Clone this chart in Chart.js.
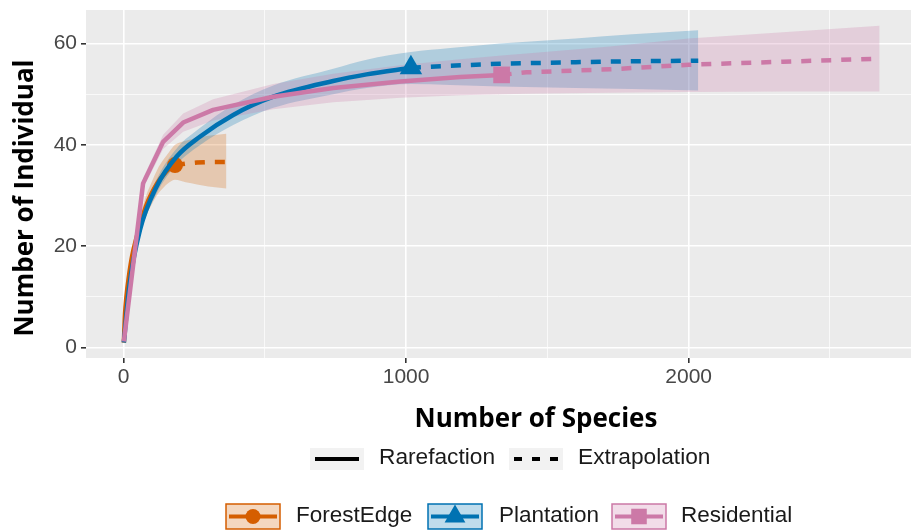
<!DOCTYPE html>
<html>
<head>
<meta charset="utf-8">
<script src="https://cdn.jsdelivr.net/npm/chart.js@4.4.1/dist/chart.umd.min.js"></script>
<style>
  html, body { margin: 0; padding: 0; background: #ffffff; }
  canvas { display: block; }
</style>
</head>
<body>
<canvas id="chart" width="911" height="531"></canvas>
<script>
// Values
const sites = ['ForestEdge', 'Plantation', 'Residential'];
const siteColors = ['#D55E00', '#0072B2', '#CC79A7'];
const siteMarkers = ['circle', 'triangle', 'rect'];
const methods = ['Rarefaction', 'Extrapolation'];

// sample size at the observed point of each site
const observedN = [182, 1017, 1338];

const forestX   = [1, 5, 10, 20, 30, 45, 60, 80, 100, 120, 140, 160, 182, 220, 260, 300, 364];
const forestEst = [1, 6.5, 10, 14.5, 18, 21.5, 24.5, 28, 30.5, 32.5, 34, 35.2, 36, 36.3, 36.5, 36.6, 36.6];
const forestLo  = [1, 6, 9.3, 13.5, 16.8, 20, 22.8, 26, 28.3, 30.2, 31.5, 32.5, 33.1, 32.6, 32.2, 31.8, 31.4];
const forestHi  = [1, 7, 10.7, 15.5, 19.2, 23, 26.2, 30, 32.7, 35.2, 37, 38.5, 40, 40.8, 41.4, 41.8, 42.2];

const plantX   = [1, 20, 58, 117, 188, 270, 388, 530, 742, 860, 1017, 1156, 1332, 1600, 1800, 2034];
const plantEst = [1, 12, 23.2, 31.8, 37.7, 41.6, 45.9, 49.5, 52.6, 53.9, 55.2, 55.6, 56.0, 56.3, 56.5, 56.6];
const plantLo  = [1, 11, 22, 30.4, 36.1, 39.9, 43.9, 47.3, 50, 51.2, 52, 51.8, 51.5, 51.2, 51, 50.7];
const plantHi  = [1, 13, 24.4, 33.2, 39.3, 43.3, 47.9, 51.7, 55, 56.8, 58.3, 59.1, 60, 61, 61.8, 62.6];

const residX   = [1, 69, 140, 211, 317, 530, 742, 980, 1191, 1338, 1426, 1721, 2000, 2334, 2676];
const residEst = [1.2, 32.4, 40.6, 44.4, 46.9, 49.5, 51.2, 52.5, 53.4, 53.8, 54.3, 54.9, 55.8, 56.4, 57.0];
const residLo  = [1.2, 31.4, 39.2, 42.6, 44.8, 47, 48.4, 49.3, 49.8, 50, 50.1, 50.3, 50.4, 50.5, 50.5];
const residHi  = [1.2, 33.4, 42, 46.2, 49, 52, 54, 55.7, 56.9, 57.6, 58, 59.4, 61, 62.2, 63.5];

// labelled ticks, and every grid line (major + minor)
const xTicks = [0, 1000, 2000];
const yTicks = [0, 20, 40, 60];
const xGrid = [0, 500, 1000, 1500, 2000, 2500];
const yGrid = [0, 10, 20, 30, 40, 50, 60];

const xTitle = 'Number of Species';
const yTitle = 'Number of Individual';

const siteSeries = [
    { x: forestX, est: forestEst, lo: forestLo, hi: forestHi, smooth: true },
    { x: plantX, est: plantEst, lo: plantLo, hi: plantHi, smooth: true },
    { x: residX, est: residEst, lo: residLo, hi: residHi, smooth: false }
];

function rgba(hex, a) {
    const n = parseInt(hex.slice(1), 16);
    return `rgba(${(n >> 16) & 255},${(n >> 8) & 255},${n & 255},${a})`;
}

function toPoints(xs, ys) {
    return xs.map((x, k) => ({ x: x, y: ys[k] }));
}

// One band (two edges + fill), a solid and a dashed line, and the observed marker per site
function buildDatasets() {
    const datasets = [];

    siteSeries.forEach((s, i) => {
        const color = siteColors[i];
        const n = observedN[i];
        const interp = s.smooth ? 'monotone' : 'default';
        const lineOrder = 10 - i * 3;

        const lowerIndex = datasets.length;
        datasets.push({
            data: toPoints(s.x, s.lo),
            borderWidth: 0, pointRadius: 0, fill: false,
            cubicInterpolationMode: interp, order: 30 - i
        });
        datasets.push({
            data: toPoints(s.x, s.hi),
            borderWidth: 0, pointRadius: 0,
            backgroundColor: rgba(color, 0.25),
            fill: { target: lowerIndex },
            cubicInterpolationMode: interp, order: 30 - i
        });

        const all = toPoints(s.x, s.est);
        datasets.push({
            data: all.filter(p => p.x <= n),
            borderColor: color, borderWidth: 4.5, pointRadius: 0,
            borderCapStyle: 'butt', borderJoinStyle: 'round',
            cubicInterpolationMode: interp, order: lineOrder
        });
        datasets.push({
            data: all.filter(p => p.x >= n),
            borderColor: color, borderWidth: 4.5, pointRadius: 0,
            borderDash: [10, 10], borderCapStyle: 'butt',
            order: lineOrder
        });

        const obs = all.find(p => p.x === n);
        datasets.push({
            data: [obs],
            showLine: false,
            pointStyle: siteMarkers[i],
            pointRadius: [8, 13, 11.8][i],
            pointBackgroundColor: color,
            pointBorderWidth: 0,
            order: lineOrder - 1
        });
    });

    return datasets;
}

const panelBackground = {
    id: 'panelBackground',
    beforeDraw(chart) {
        const { ctx, chartArea } = chart;
        ctx.save();
        ctx.fillStyle = '#EBEBEB';
        ctx.fillRect(chartArea.left, chartArea.top, chartArea.right - chartArea.left, chartArea.bottom - chartArea.top);
        ctx.restore();
    }
};

// Axis titles and the two legend rows under the panel
const titlesAndLegend = {
    id: 'titlesAndLegend',
    afterDraw(chart) {
        const ctx = chart.ctx;

        ctx.save();
        ctx.fillStyle = '#000000';
        ctx.font = 'bold 26px "Open Sans"';
        ctx.textAlign = 'center';
        ctx.textBaseline = 'alphabetic';
        ctx.translate(33, 198);
        ctx.rotate(-Math.PI / 2);
        ctx.fillText(yTitle, 0, 0);
        ctx.restore();

        ctx.save();
        ctx.fillStyle = '#000000';
        ctx.font = 'bold 26px "Open Sans"';
        ctx.textAlign = 'center';
        ctx.textBaseline = 'alphabetic';
        ctx.fillText(xTitle, 536, 427);
        ctx.restore();

        // linetype legend
        const rowOne = [310, 509];
        const rowOneText = [379, 578];
        methods.forEach((m, k) => {
            const bx = rowOne[k];
            ctx.save();
            ctx.fillStyle = '#F2F2F2';
            ctx.fillRect(bx, 448, 54, 22);
            ctx.strokeStyle = '#000000';
            ctx.lineWidth = 4;
            ctx.lineCap = 'butt';
            ctx.setLineDash(k === 0 ? [] : [8, 10]);
            ctx.beginPath();
            ctx.moveTo(bx + 5, 459);
            ctx.lineTo(bx + 49, 459);
            ctx.stroke();
            ctx.restore();

            ctx.save();
            ctx.fillStyle = '#1A1A1A';
            ctx.font = '22.7px "Liberation Sans"';
            ctx.textAlign = 'left';
            ctx.textBaseline = 'middle';
            ctx.fillText(m, rowOneText[k], 458);
            ctx.restore();
        });

        // site legend
        const rowTwo = [226, 428, 612];
        const rowTwoText = [296, 499, 681];
        sites.forEach((name, i) => {
            const bx = rowTwo[i];
            const color = siteColors[i];
            ctx.save();
            ctx.fillStyle = rgba(color, 0.25);
            ctx.fillRect(bx, 504, 54, 25);
            ctx.strokeStyle = color;
            ctx.lineWidth = 1.5;
            ctx.strokeRect(bx, 504, 54, 25);
            ctx.lineWidth = 4;
            ctx.beginPath();
            ctx.moveTo(bx + 3, 516.5);
            ctx.lineTo(bx + 51, 516.5);
            ctx.stroke();
            ctx.fillStyle = color;
            Chart.helpers.drawPoint(ctx, {
                pointStyle: siteMarkers[i],
                radius: [7.5, 12, 11][i],
                rotation: 0,
                borderWidth: 0
            }, bx + 27, 516.5);
            ctx.restore();

            ctx.save();
            ctx.fillStyle = '#1A1A1A';
            ctx.font = '22.5px "Liberation Sans"';
            ctx.textAlign = 'left';
            ctx.textBaseline = 'middle';
            ctx.fillText(name, rowTwoText[i], 516);
            ctx.restore();
        });
    }
};

const majorX = v => xTicks.includes(v);
const majorY = v => yTicks.includes(v);

// drop the label overhang padding so the panel edges sit where the layout puts them
function noPadding(scale) {
    scale.paddingTop = 0;
    scale.paddingBottom = 0;
    scale.paddingLeft = 0;
    scale.paddingRight = 0;
}

new Chart(document.getElementById('chart'), {
    type: 'line',
    data: { datasets: buildDatasets() },
    options: {
        responsive: false,
        animation: false,
        events: [],
        layout: {
            autoPadding: false,
            padding: { left: 0, right: 0, top: 10, bottom: 133 }
        },
        plugins: {
            legend: { display: false },
            tooltip: { enabled: false },
            filler: { drawTime: 'beforeDatasetsDraw' }
        },
        scales: {
            x: {
                type: 'linear',
                min: -133,
                max: 2787,
                afterBuildTicks(scale) { scale.ticks = xGrid.map(v => ({ value: v })); },
                afterFit(scale) { scale.height = 40; noPadding(scale); },
                border: { display: false },
                grid: {
                    color: '#FFFFFF',
                    lineWidth: c => (c.tick && majorX(c.tick.value)) ? 1.6 : 0.7,
                    tickColor: c => (c.tick && majorX(c.tick.value)) ? '#333333' : 'rgba(0,0,0,0)',
                    tickLength: 5
                },
                ticks: {
                    autoSkip: false,
                    maxRotation: 0,
                    padding: 2,
                    color: '#474747',
                    font: { family: '"Liberation Sans"', size: 21 },
                    callback: v => majorX(v) ? String(v) : ''
                }
            },
            y: {
                type: 'linear',
                min: -2.05,
                max: 66.6,
                afterBuildTicks(scale) { scale.ticks = yGrid.map(v => ({ value: v })); },
                afterFit(scale) { scale.width = 86; noPadding(scale); },
                border: { display: false },
                grid: {
                    color: '#FFFFFF',
                    lineWidth: c => (c.tick && majorY(c.tick.value)) ? 1.6 : 0.7,
                    tickColor: c => (c.tick && majorY(c.tick.value)) ? '#333333' : 'rgba(0,0,0,0)',
                    tickLength: 5
                },
                ticks: {
                    autoSkip: false,
                    padding: 4,
                    color: '#474747',
                    font: { family: '"Liberation Sans"', size: 21 },
                    callback: v => majorY(v) ? String(v) : ''
                }
            }
        }
    },
    plugins: [panelBackground, titlesAndLegend]
});
</script>
</body>
</html>
